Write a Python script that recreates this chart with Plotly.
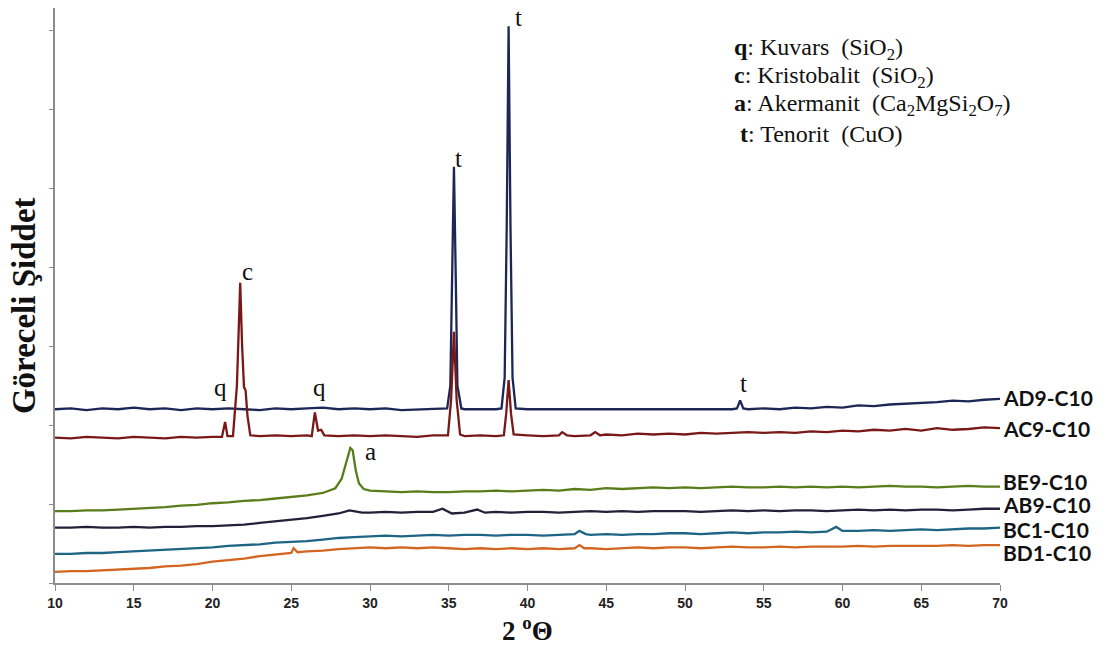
import plotly.graph_objects as go

# ---------------- data (relative intensity, arbitrary units) ----------------
ad9_x = [10, 11, 12, 13, 14, 15, 16, 17, 18, 19, 20, 21, 22, 23, 24, 25, 26, 27, 28, 29, 30,
         31, 32, 33, 34, 34.9, 35.1, 35.2, 35.33, 35.45, 35.55, 35.8, 36, 37, 38, 38.35, 38.55,
         38.68, 38.8, 38.92, 39.05, 39.25, 40, 41, 42, 43, 44, 45, 46, 47, 48, 49, 50, 51, 52,
         53, 53.3, 53.5, 53.7, 54, 55, 56, 57, 58, 59, 60, 61, 62, 63, 64, 65, 66, 67, 68, 69, 70]
ad9_y = [220, 221, 219, 221, 220, 222, 220, 221, 219, 221, 220, 221, 220, 219, 221, 220, 221, 222, 220, 221, 220,
         221, 219, 220, 221, 221, 250, 380, 527, 380, 250, 221, 220, 220, 220, 221, 260,
         450, 705, 450, 260, 221, 220, 220, 220, 220, 220, 220, 220, 220, 220, 220, 220, 220, 220,
         220, 221, 231, 221, 220, 221, 220, 222, 221, 223, 222, 225, 224, 226, 227, 228, 229, 231, 230, 232, 233]

ac9_x = [10, 11, 12, 13, 14, 15, 16, 17, 18, 19, 20, 20.6, 20.8, 20.95, 21.3, 21.55, 21.68, 21.76,
         21.88, 22.0, 22.1, 22.22, 22.4, 23, 24, 25, 26, 26.3, 26.5, 26.7, 26.9, 27.1, 28, 29, 30,
         31, 32, 33, 34, 34.95, 35.15, 35.33, 35.5, 35.72, 36, 37, 38, 38.5, 38.65, 38.8, 38.95,
         39.12, 40, 41, 42, 42.2, 42.5, 43, 44, 44.3, 44.6, 45, 46, 47, 48, 49, 50, 51, 52, 53, 54,
         55, 56, 57, 58, 59, 60, 61, 62, 63, 64, 65, 66, 67, 68, 69, 70]
ac9_y = [184, 183, 185, 184, 183, 185, 184, 183, 185, 184, 185, 185, 204, 186, 186, 250, 330, 380,
         300, 248, 244, 212, 187, 186, 187, 186, 187, 186, 216, 193, 194, 187, 186, 187, 186,
         187, 186, 185, 187, 187, 232, 318, 232, 188, 186, 187, 186, 187, 215, 257, 215,
         188, 187, 186, 187, 191, 187, 186, 187, 191, 187, 188, 187, 189, 188, 189, 188, 190, 189, 190, 191,
         190, 191, 190, 192, 191, 193, 192, 194, 193, 195, 193, 196, 194, 195, 197, 196]

be9_x = [10, 11, 12, 13, 14, 15, 16, 17, 18, 19, 20, 21, 22, 23, 24, 25, 26, 27, 27.8, 28.2, 28.45,
         28.6, 28.75, 28.9, 29.1, 29.3, 29.6, 30, 31, 32, 33, 34, 35, 36, 37, 38, 39, 40, 41, 42,
         43, 44, 45, 46, 47, 48, 49, 50, 51, 52, 53, 54, 55, 56, 57, 58, 59, 60, 61, 62, 63, 64,
         65, 66, 67, 68, 69, 70]
be9_y = [91, 91, 92, 92, 93, 94, 95, 96, 98, 99, 101, 102, 104, 105, 107, 109, 111, 114, 120, 132, 150,
         158, 171, 168, 142, 126, 119, 117, 116, 115, 116, 115, 115, 116, 116, 117, 116, 117, 118, 117,
         119, 118, 120, 119, 120, 121, 120, 121, 120, 121, 122, 121, 121, 122, 121, 122, 121, 122, 121, 122, 123, 122,
         122, 121, 122, 123, 122, 122]

ab9_x = [10, 11, 12, 13, 14, 15, 16, 17, 18, 19, 20, 21, 22, 23, 24, 25, 26, 27, 28, 28.7, 29.5, 30,
         31, 32, 33, 34, 34.6, 35.2, 36, 36.8, 37.3, 38, 39, 40, 41, 42, 43, 44, 45, 46, 47, 48,
         49, 50, 51, 52, 53, 54, 55, 56, 57, 58, 59, 60, 61, 62, 63, 64, 65, 66, 67, 68, 69, 70]
ab9_y = [70, 70, 71, 70, 70, 71, 70, 71, 71, 72, 72, 73, 74, 76, 78, 80, 82, 85, 88, 92, 89, 89,
         90, 89, 90, 90, 94, 88, 89, 93, 89, 90, 89, 90, 90, 89, 90, 91, 90, 91, 90, 91,
         91, 91, 90, 91, 92, 91, 92, 91, 92, 92, 91, 92, 93, 92, 93, 92, 93, 93, 92, 93, 94, 94]

bc1_x = [10, 11, 12, 13, 14, 15, 16, 17, 18, 19, 20, 21, 22, 23, 24, 25, 26, 27, 28, 29, 30, 31,
         32, 33, 34, 35, 36, 37, 38, 39, 40, 41, 42, 43, 43.3, 43.7, 44, 45, 46, 47, 48, 49, 50,
         51, 52, 53, 54, 55, 56, 57, 58, 59, 59.6, 60, 61, 62, 63, 64, 65, 66, 67, 68, 69, 70]
bc1_y = [37, 37, 38, 38, 39, 40, 41, 42, 43, 44, 45, 47, 48, 49, 51, 52, 53, 55, 57, 58, 59, 60,
         59, 60, 61, 60, 61, 61, 60, 61, 61, 60, 61, 62, 66, 62, 61, 62, 61, 62, 62, 63, 63,
         62, 63, 64, 63, 64, 64, 65, 64, 65, 71, 66, 66, 67, 66, 67, 68, 67, 68, 69, 69, 70]

bd1_x = [10, 11, 12, 13, 14, 15, 16, 17, 18, 19, 20, 21, 22, 23, 24, 25, 25.15, 25.4, 26, 27, 28,
         29, 30, 31, 32, 33, 34, 35, 36, 37, 38, 39, 40, 41, 42, 43, 43.3, 43.6, 44, 45, 46, 47,
         48, 49, 50, 51, 52, 53, 54, 55, 56, 57, 58, 59, 60, 61, 62, 63, 64, 65, 66, 67, 68, 69, 70]
bd1_y = [14, 15, 15, 16, 17, 18, 19, 21, 22, 24, 27, 29, 31, 34, 36, 38, 44, 39, 40, 41, 43,
         44, 45, 44, 45, 44, 45, 44, 43, 44, 43, 44, 43, 44, 43, 44, 48, 44, 44, 43, 44, 45,
         44, 45, 45, 44, 45, 46, 45, 45, 46, 45, 46, 46, 46, 47, 46, 47, 47, 47, 47, 48, 47, 48, 48]

series_names = ["AD9-C10", "AC9-C10", "BE9-C10", "AB9-C10", "BC1-C10", "BD1-C10"]
series_x = [ad9_x, ac9_x, be9_x, ab9_x, bc1_x, bd1_x]
series_y = [ad9_y, ac9_y, be9_y, ab9_y, bc1_y, bd1_y]
series_colors = ["#1c2757", "#7a1818", "#5a7d1b", "#25203a", "#1e6584", "#d2651f"]
label_y = [235, 196, 129, 99, 68, 39]

peak_labels = ["t", "t", "c", "q", "q", "a", "t"]
peak_label_x = [39.4, 35.65, 22.25, 20.5, 26.8, 30.0, 53.7]
peak_label_y = [716, 537, 394, 247, 247, 166, 253]

legend_lines = [
    "<b>q</b>: Kuvars  (SiO<sub>2</sub>)",
    "<b>c</b>: Kristobalit  (SiO<sub>2</sub>)",
    "<b>a</b>: Akermanit  (Ca<sub>2</sub>MgSi<sub>2</sub>O<sub>7</sub>)",
    " <b>t</b>: Tenorit  (CuO)",
]
legend_y = [676, 641, 605, 569]

x_ticks = [10, 15, 20, 25, 30, 35, 40, 45, 50, 55, 60, 65, 70]

# ---------------- figure ----------------
fig = go.Figure()
for name, xs, ys, col in zip(series_names, series_x, series_y, series_colors):
    fig.add_trace(go.Scatter(x=xs, y=ys, mode="lines", name=name,
                             line=dict(color=col, width=2.3), showlegend=False))

serif = "Liberation Serif, Times New Roman, serif"
annotations = []
for name, ly in zip(series_names, label_y):
    annotations.append(dict(x=70, y=ly, xref="x", yref="y", text=name, showarrow=False,
                            xanchor="left", yanchor="middle", xshift=1,
                            font=dict(family="Lato, Open Sans, sans-serif", size=21,
                                      color="#111111", weight="bold")))
for t, px_, py_ in zip(peak_labels, peak_label_x, peak_label_y):
    annotations.append(dict(x=px_, y=py_, xref="x", yref="y", text=t, showarrow=False,
                            xanchor="center", yanchor="middle",
                            font=dict(family=serif, size=25, color="#111111")))
for txt, ly in zip(legend_lines, legend_y):
    annotations.append(dict(x=52.98, y=ly, xref="x", yref="y", text=txt, showarrow=False,
                            xanchor="left", yanchor="middle",
                            font=dict(family=serif, size=24, color="#111111")))
annotations.append(dict(x=-0.033, y=0.483, xref="paper", yref="paper",
                        text="<b>Göreceli Şiddet</b>", textangle=-90, showarrow=False,
                        xanchor="center", yanchor="middle",
                        font=dict(family=serif, size=33, color="#111111")))
annotations.append(dict(x=0.5, y=-0.08, xref="paper", yref="paper",
                        text="<b>2 <sup>o</sup>Θ</b>", showarrow=False,
                        xanchor="center", yanchor="middle",
                        font=dict(family=serif, size=27, color="#111111")))

fig.update_layout(
    width=1111, height=645,
    margin=dict(l=55, r=111, t=8, b=62),
    plot_bgcolor="white", paper_bgcolor="white",
    annotations=annotations,
    xaxis=dict(range=[10, 70], tickvals=x_ticks, ticktext=[str(v) for v in x_ticks],
               showgrid=False, zeroline=False, showline=True, linecolor="#8c8c8c",
               linewidth=1.5, ticks="outside", ticklen=6, tickcolor="#8c8c8c",
               tickfont=dict(family="Liberation Sans Narrow, Arial Narrow, sans-serif",
                             size=14, color="#222222", weight="bold")),
    yaxis=dict(range=[0, 728], dtick=100, showticklabels=False, showgrid=False,
               zeroline=False, showline=True, linecolor="#8c8c8c", linewidth=1.5,
               ticks="outside", ticklen=4, tickcolor="#8c8c8c"),
)

fig.write_html("out.html", config={"displayModeBar": False},
               post_script="document.body.style.margin='0';document.body.style.overflow='hidden';")
